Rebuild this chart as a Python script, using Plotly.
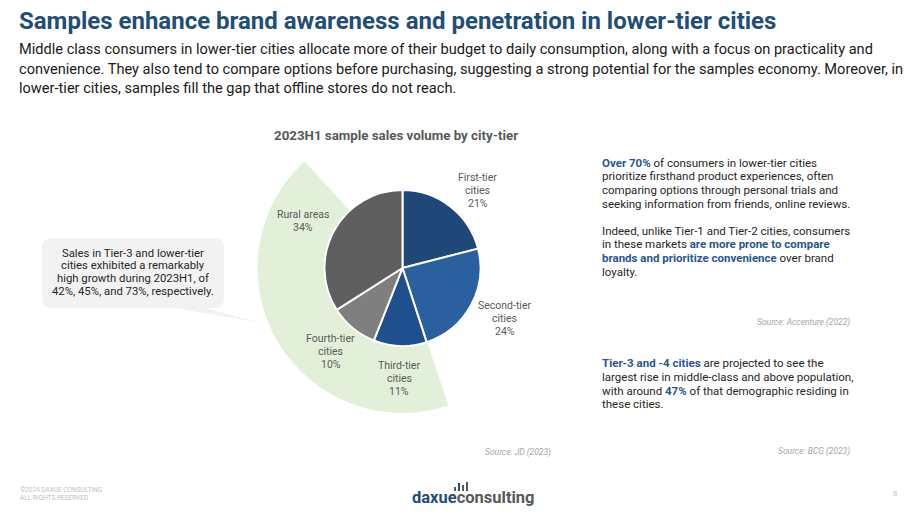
import math
import plotly.graph_objects as go

# ---- data ----
tiers = ["First-tier cities", "Second-tier cities", "Third-tier cities", "Fourth-tier cities", "Rural areas"]
tier_labels = ["First-tier<br>cities", "Second-tier<br>cities", "Third-tier<br>cities", "Fourth-tier<br>cities", "Rural areas"]
shares = [21, 24, 11, 10, 34]
slice_colors = ["#1f4778", "#2a5fa0", "#1f4f8c", "#7f7f7f", "#5f5f5f"]

# highlight band: lower-tier share (third, fourth, rural) vs rest of circle (decorative wedge)
band_values = [43.3, 56.7]

# ---- layout / style ----
W, H = 920, 518
cx, cy, r = 402.5, 268, 78
R = 145
LABEL_R = 111
LABEL_NUDGE = [(7, 10), (5, -3), (0, 0), (-1, -2), (-2, 6)]

def dom_x(c, rad):
    return [(c - rad) / W, (c + rad) / W]

def dom_y(c, rad):
    return [(H - c - rad) / H, (H - c + rad) / H]

fig = go.Figure()

# light-green band behind the pie
fig.add_trace(go.Pie(
    values=band_values, sort=False, direction="clockwise", rotation=161.6,
    marker=dict(colors=["#e2f0d9", "rgba(0,0,0,0)"], line=dict(width=0)),
    textinfo="none", hoverinfo="skip", showlegend=False,
    domain=dict(x=dom_x(cx, R), y=dom_y(cy, R)),
))

fig.add_trace(go.Pie(
    labels=tiers, values=shares, sort=False, direction="clockwise", rotation=0,
    marker=dict(colors=slice_colors, line=dict(color="white", width=2)),
    textinfo="none", showlegend=False,
    domain=dict(x=dom_x(cx, r), y=dom_y(cy, r)),
))

HL = "#2a5597"
TXT = "#262626"

ann = []
def t(x, y, text, size, color=TXT, family="Roboto", xanchor="left", align="left", yanchor="middle"):
    ann.append(dict(x=x, y=y, xref="x", yref="y", text=text, showarrow=False,
                    font=dict(family=family, size=size, color=color),
                    xanchor=xanchor, yanchor=yanchor, align=align))

def lines(x, y0, step, rows, size, **kw):
    for i, row in enumerate(rows):
        t(x, y0 + i * step, row, size, **kw)

# slice labels placed at each slice's mid-angle
total = sum(shares)
cum = 0
for (lab, v), (nx, ny) in zip(zip(tier_labels, shares), LABEL_NUDGE):
    mid = (cum + v / 2) / total * 2 * math.pi
    cum += v
    rows = lab.split("<br>") + [f"{v}%"]
    n = len(rows)
    lx = cx + LABEL_R * math.sin(mid) + nx
    ly = cy - LABEL_R * math.cos(mid) + ny
    lines(lx, ly - (n - 1) * 13 / 2, 13, rows, 10.5, color="#595959", xanchor="center", align="center")

# slide title + subtitle
t(17, 21, "<b>Samples enhance brand awareness and penetration in lower-tier cities</b>", 24,
  color="#1f4e79")
lines(17, 49, 19.7, ["Middle class consumers in lower-tier cities allocate more of their budget to daily consumption, along with a focus on practicality and",
                     "convenience. They also tend to compare options before purchasing, suggesting a strong potential for the samples economy. Moreover, in",
                     "lower-tier cities, samples fill the gap that offline stores do not reach."], 14.6, color="#1a1a1a")

# chart title
t(396, 135, "<b>2023H1 sample sales volume by city-tier</b>", 13.3, color="#595959", xanchor="center", align="center")

# callout text
lines(133, 253, 12.8, ["Sales in Tier-3 and lower-tier", "cities exhibited a remarkably",
                       "high growth during 2023H1, of", "42%, 45%, and 73%, respectively."],
      11.3, color=TXT, xanchor="center", align="center")

# right-hand notes
hl = lambda s: f"<b><span style='color:{HL}'>{s}</span></b>"
lines(600, 162.7, 13.6, [hl("Over 70%") + " of consumers in lower-tier cities",
                         "prioritize firsthand product experiences, often",
                         "comparing options through personal trials and",
                         "seeking information from friends, online reviews."], 11.5)
lines(600, 230.7, 13.6, ["Indeed, unlike Tier-1 and Tier-2 cities, consumers",
                         "in these markets " + hl("are more prone to compare"),
                         hl("brands and prioritize convenience") + " over brand",
                         "loyalty."], 11.5)
lines(600, 363.3, 13.6, [hl("Tier-3 and -4 cities") + " are projected to see the",
                         "largest rise in middle-class and above population,",
                         "with around " + hl("47%") + " of that demographic residing in",
                         "these cities."], 11.5)

t(852, 322, "<i>Source: Accenture (2022)</i>", 8.5, color="#a6a6a6", xanchor="right")
t(852, 451, "<i>Source: BCG (2023)</i>", 8.5, color="#a6a6a6", xanchor="right")
t(553, 452, "<i>Source: JD (2023)</i>", 8.5, color="#a6a6a6", xanchor="right")

# footer
lines(18, 490, 8, ["©2024 DAXUE CONSULTING", "ALL RIGHTS RESERVED"], 6.5, color="#bfbfbf")
t(900, 493, "8", 8, color="#bfbfbf", xanchor="right")
t(473, 497, "<b><span style='color:#1f4e79'>daxue</span><span style='color:#595959'>consulting</span></b>", 16.5,
  xanchor="center", align="center")

shapes = [
    dict(type="path", xref="x", yref="y", layer="below",
         path="M 52 238 L 214 238 Q 224 238 224 248 L 224 298 Q 224 308 214 308 L 205 308 "
              "L 262 323 L 175 308 L 52 308 Q 42 308 42 298 L 42 248 Q 42 238 52 238 Z",
         fillcolor="#f2f2f2", line=dict(width=0)),
]
# logo bars
for bx, btop, col in [(454, 487, "#595959"), (458, 483, "#1f4e79"), (462, 485, "#595959"), (466, 482, "#595959")]:
    shapes.append(dict(type="rect", xref="x", yref="y", x0=bx, x1=bx + 2, y0=btop, y1=491,
                       fillcolor=col, line=dict(width=0)))

fig.update_layout(
    width=W, height=H, margin=dict(l=0, r=0, t=0, b=0),
    paper_bgcolor="white", plot_bgcolor="white",
    xaxis=dict(range=[0, W], visible=False, fixedrange=True, domain=[0, 1]),
    yaxis=dict(range=[H, 0], visible=False, fixedrange=True, domain=[0, 1]),
    annotations=ann, shapes=shapes, showlegend=False,
    font=dict(family="Roboto"),
)

fig.write_html("out.html")
